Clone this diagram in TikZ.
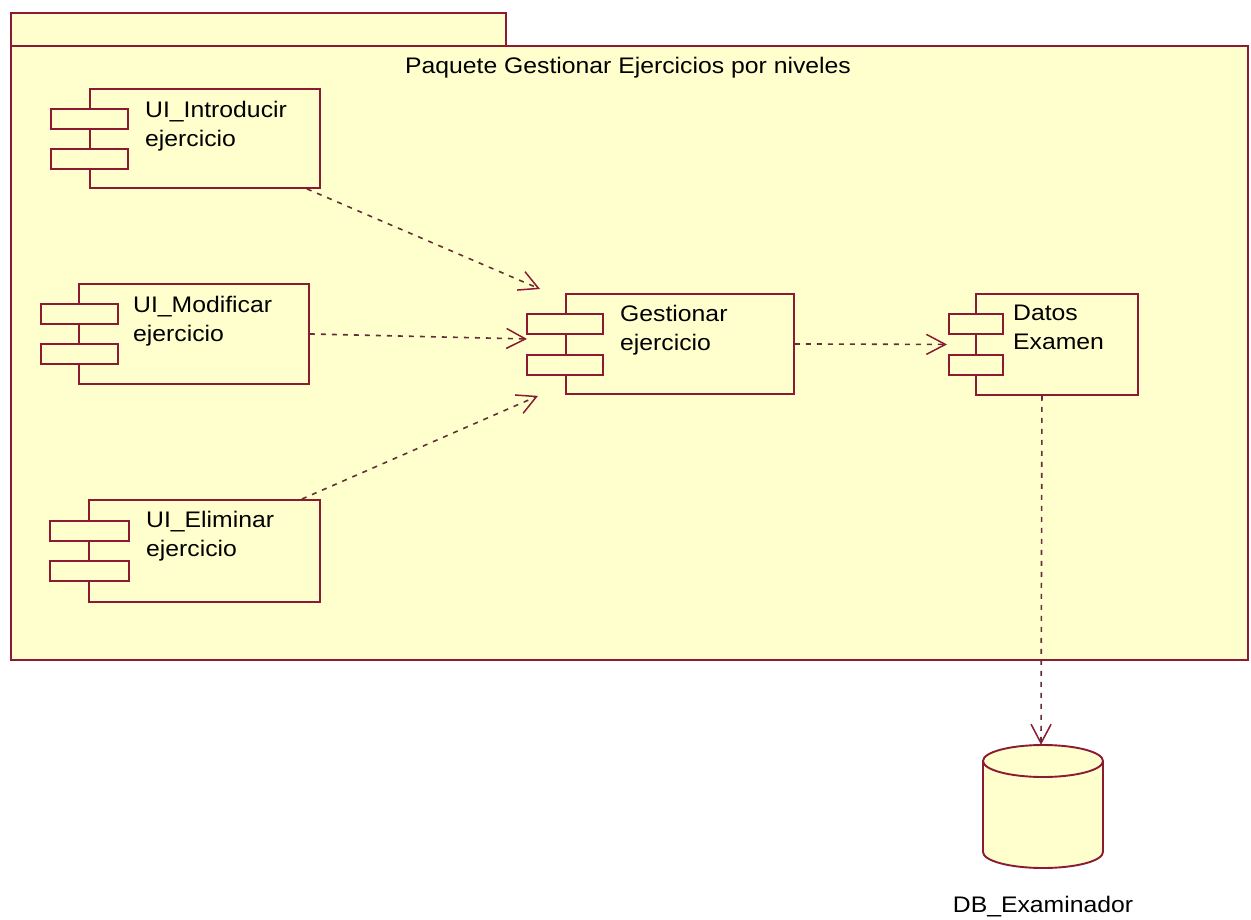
\documentclass[tikz,border=0pt]{standalone}
\usepackage{fontspec}
\setmainfont{Liberation Sans}[FakeStretch=1.1]
\usetikzlibrary{arrows.meta}

\definecolor{umlline}{RGB}{139,26,50}
\definecolor{umlfill}{RGB}{255,255,206}
\definecolor{deplink}{RGB}{100,48,55}

\tikzset{
  pkgbox/.style={draw=umlline, fill=umlfill, line width=1.9pt},
  compbox/.style={draw=umlline, fill=umlfill, line width=1.9pt, rectangle,
    inner sep=0pt, anchor=north west},
  portbox/.style={compbox, minimum height=20pt},
  lbl/.style={inner sep=0pt, align=left, text=black,
    font=\fontsize{22.5}{29}\selectfont},
  dep/.style={draw=deplink, line width=1.6pt, dash pattern=on 5pt off 6pt,
    -{Straight Barb[length=19pt, width=20pt, color=umlline, line width=1.5pt]}},
}

\begin{document}
\begin{tikzpicture}[x=1pt, y=-1pt]
  \useasboundingbox (0,0) rectangle (1251,919);
  \fill[white] (0,0) rectangle (1251,919);

  % package with its tab
  \node[pkgbox, rectangle, inner sep=0pt, anchor=north west,
        minimum width=495pt, minimum height=33pt] (tab) at (10,12) {};
  \node[pkgbox, rectangle, inner sep=0pt, anchor=north west,
        minimum width=1237pt, minimum height=614pt] (pkg) at (10,45) {};
  \node[lbl, anchor=north] (pkgname) at (628,57)
        {Paquete Gestionar Ejercicios por niveles};

  % UI_Introducir ejercicio
  \node[compbox, minimum width=230pt, minimum height=99pt] (intro) at (89,88) {};
  \node[portbox, minimum width=77pt] (intro-p1) at ([xshift=-39pt,yshift=-20pt]intro.north west) {};
  \node[portbox, minimum width=77pt] (intro-p2) at ([xshift=-39pt,yshift=-60pt]intro.north west) {};
  \node[lbl, anchor=north west] (intro-t) at ([xshift=56pt,yshift=-13pt]intro.north west)
        {UI\_Introducir\\ejercicio};

  % UI_Modificar ejercicio
  \node[compbox, minimum width=230pt, minimum height=100pt] (modif) at (78,283) {};
  \node[portbox, minimum width=77pt] (modif-p1) at ([xshift=-38pt,yshift=-20pt]modif.north west) {};
  \node[portbox, minimum width=77pt] (modif-p2) at ([xshift=-38pt,yshift=-60pt]modif.north west) {};
  \node[lbl, anchor=north west] (modif-t) at ([xshift=55pt,yshift=-13pt]modif.north west)
        {UI\_Modificar\\ejercicio};

  % UI_Eliminar ejercicio
  \node[compbox, minimum width=231pt, minimum height=102pt] (elim) at (88,499) {};
  \node[portbox, minimum width=79pt] (elim-p1) at ([xshift=-39pt,yshift=-21pt]elim.north west) {};
  \node[portbox, minimum width=79pt] (elim-p2) at ([xshift=-39pt,yshift=-61pt]elim.north west) {};
  \node[lbl, anchor=north west] (elim-t) at ([xshift=58pt,yshift=-12pt]elim.north west)
        {UI\_Eliminar\\ejercicio};

  % Gestionar ejercicio
  \node[compbox, minimum width=228pt, minimum height=100pt] (gest) at (565,293) {};
  \node[portbox, minimum width=76pt] (gest-p1) at ([xshift=-39pt,yshift=-20pt]gest.north west) {};
  \node[portbox, minimum width=76pt] (gest-p2) at ([xshift=-39pt,yshift=-61pt]gest.north west) {};
  \node[lbl, anchor=north west] (gest-t) at ([xshift=55pt,yshift=-12pt]gest.north west)
        {Gestionar\\ejercicio};

  % Datos Examen
  \node[compbox, minimum width=162pt, minimum height=101pt] (datos) at (975,293) {};
  \node[portbox, minimum width=54pt] (datos-p1) at ([xshift=-27pt,yshift=-20pt]datos.north west) {};
  \node[portbox, minimum width=54pt] (datos-p2) at ([xshift=-27pt,yshift=-61pt]datos.north west) {};
  \node[lbl, anchor=north west] (datos-t) at ([xshift=38pt,yshift=-12pt]datos.north west)
        {Datos\\Examen};

  % DB_Examinador database
  \node[inner sep=0pt, minimum width=120pt, minimum height=123pt] (db) at (1043,806.5) {};
  \filldraw[draw=umlline, fill=umlfill, line width=1.9pt]
    (983,761) -- (983,852) arc[start angle=180, end angle=0, x radius=60, y radius=16]
    -- (1103,761);
  \filldraw[draw=umlline, fill=umlfill, line width=1.9pt] (1043,761) ellipse [x radius=60, y radius=16];
  \node[lbl, anchor=north] (db-t) at (1043,896) {DB\_Examinador};

  % dependencies
  \draw[dep] ([xshift=-14pt]intro.south east) -- ([xshift=-25pt,yshift=4pt]gest.north west);
  \draw[dep] (modif.east) -- ([xshift=-38pt,yshift=5pt]gest.west);
  \draw[dep] ([xshift=-19pt]elim.north east) -- ([xshift=-27pt,yshift=-1pt]gest.south west);
  \draw[dep] (gest.east) -- ([xshift=-28pt]datos.west);
  \draw[dep] ([xshift=-15pt]datos.south) -- ([xshift=-2pt]db.north);
\end{tikzpicture}
\end{document}
